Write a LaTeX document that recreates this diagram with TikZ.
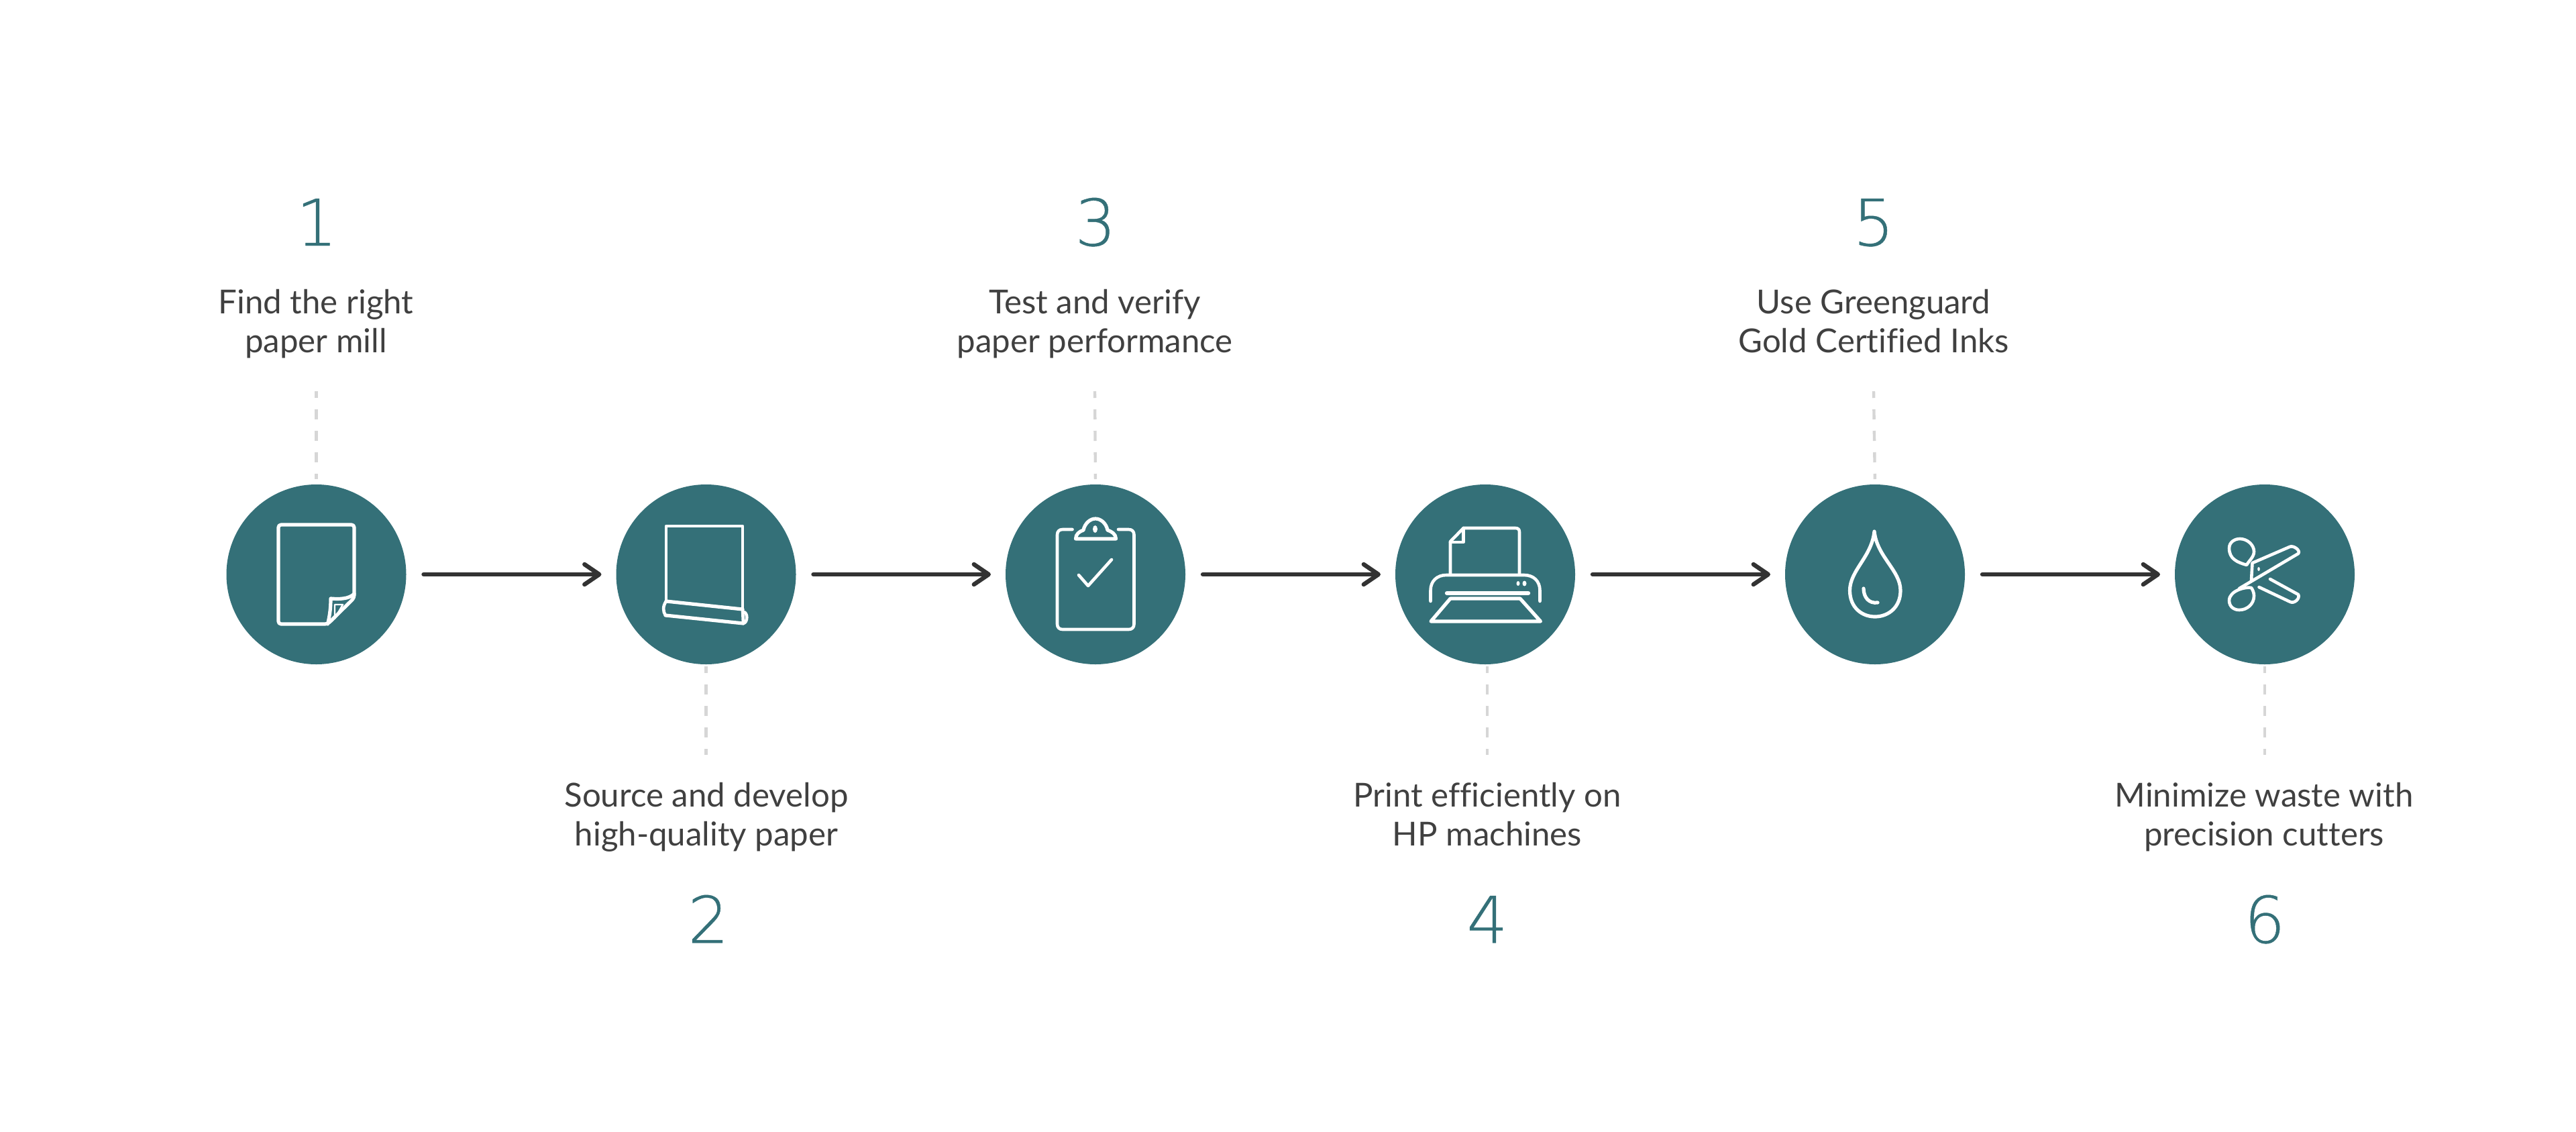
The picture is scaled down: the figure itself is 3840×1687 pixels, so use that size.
\documentclass[tikz,border=0pt]{standalone}
\usepackage{fontspec}
\setmainfont[Ligatures=NoCommon]{Lato}
\newfontfamily\numfont[FakeBold=0.5]{DejaVu Sans ExtraLight}
\usetikzlibrary{arrows.meta}
\definecolor{teal1}{HTML}{347078}
\definecolor{txt}{HTML}{404040}
\definecolor{arr}{HTML}{333333}
\definecolor{dashc}{HTML}{D6D6D6}
\tikzset{
  stepdisc/.style={circle,fill=teal1,minimum size=134pt,inner sep=0pt,outer sep=0pt},
  flow/.style={draw=arr,line width=3.2pt,line cap=round,shorten <=13pt,shorten >=11pt,
     -{Straight Barb[length=11pt,width=15pt,line width=3.2pt,round]}},
  guide/.style={draw=dashc,line width=2.2pt,dash pattern=on 7.5pt off 8.5pt,dash phase=2.5pt},
  label/.style={font=\fontsize{24.6}{29}\selectfont,text=txt,align=center,inner sep=0pt},
  numeral/.style={font=\numfont\fontsize{48}{48}\selectfont,text=teal1,inner sep=0pt,anchor=base},
  icon/.style={draw=white,line width=2.6pt,line join=round,line cap=round},
  iconthin/.style={draw=white,line width=2.3pt,line join=round,line cap=round}
}
\begin{document}
\begin{tikzpicture}[x=0.5pt,y=-0.5pt]
\useasboundingbox (0,0) rectangle (3840,1687);
% discs
\node[stepdisc] (c1) at (471.5,856) {};
\node[stepdisc] (c2) at (1052.5,856) {};
\node[stepdisc] (c3) at (1633,856) {};
\node[stepdisc] (c4) at (2214,856) {};
\node[stepdisc] (c5) at (2795,856) {};
\node[stepdisc] (c6) at (3376,856) {};
% flow arrows
\foreach \a/\b in {c1/c2,c2/c3,c3/c4,c4/c5,c5/c6}{\draw[flow] (\a) -- (\b);}
% free ends of the guides
\coordinate (t1) at (471.5,583);
\coordinate (t3) at (1632,583);
\coordinate (t5) at (2793,583);
\coordinate (b2) at (1052.5,1125);
\coordinate (b4) at (2217,1125);
\coordinate (b6) at (3376,1125);
\draw[guide,shorten >=4pt] (t1) -- (c1.north);
\draw[guide,shorten >=4pt] (t3) -- (c3.north);
\draw[guide,shorten >=4pt] (t5) -- (c5.north);
\draw[guide,shorten <=1.5pt] (c2.south) -- (b2);
\draw[guide,shorten <=1.5pt] (b4 |- c4.south) -- (b4);
\draw[guide,shorten <=1.5pt] (c6.south) -- (b6);
% numbers
\node[numeral] (n1) at (472,366) {1};
\node[numeral] (n3) at (1633,366) {3};
\node[numeral] (n5) at (2793,366) {5};
\node[numeral] (n2) at (1056,1405) {2};
\node[numeral] (n4) at (2217,1405) {4};
\node[numeral] (n6) at (3376,1405) {6};
% labels
\node[label] (l1) at (471,484.4) {\strut Find the right\\\strut paper mill};
\node[label] (l3) at (1632,484.4) {\strut Test and verify\\\strut paper performance};
\node[label] (l5) at (2793,484.4) {\strut Use Greenguard\\\strut Gold Certified Inks};
\node[label] (l2) at (1053,1219.4) {\strut Source and develop\\\strut high-quality paper};
\node[label] (l4) at (2217,1219.4) {\strut Print efficiently on\\\strut HP machines};
\node[label] (l6) at (3375,1219.4) {\strut Minimize waste with\\\strut precision cutters};
% icon 1: sheet with curled corner
\draw[icon,rounded corners=2pt] (528,891) -- (528,782) -- (415,782) -- (415,930) -- (488.5,930) -- cycle;
\draw[icon] (488.5,930) .. controls (492,915) and (493,905) .. (493,892) .. controls (505,893) and (520,893) .. (528,885);
\draw[iconthin,line width=1.2pt] (499,901) -- (511,901) -- (499,922) -- cycle;
% icon 2: sheet on a roll
\draw[iconthin] (993,896) -- (993,784) -- (1107,784) -- (1107,908);
\draw[icon] (993,896) -- (1107,908);
\draw[icon] (992,917) -- (1108,929);
\draw[iconthin] (993,896) .. controls (988,903) and (988,911) .. (992,917);
\draw[iconthin] (1108,912) .. controls (1115,912) and (1115,928) .. (1108,929);
\draw[iconthin] (1107,908) -- (1108,929);
% icon 3: clipboard with tick
\draw[iconthin] (1598.5,789) -- (1584,789) .. controls (1579,789) and (1576,792) .. (1576,797) -- (1576,930) .. controls (1576,935) and (1579,938) .. (1584,938) -- (1682.5,938) .. controls (1687.5,938) and (1690.5,935) .. (1690.5,930) -- (1690.5,797) .. controls (1690.5,792) and (1687.5,789) .. (1682.5,789) -- (1667,789);
\draw[icon] (1603.5,803) -- (1663.5,803) .. controls (1663.5,796) and (1657,792) .. (1651,790) .. controls (1649,780) and (1641,773) .. (1633,773) .. controls (1625,773) and (1617,780) .. (1615,790) .. controls (1609,792) and (1603.5,796) .. (1603.5,803) -- cycle;
\fill[white] (1632.5,788.5) ellipse [x radius=3.5,y radius=5.5];
\draw[iconthin] (1608,857) -- (1622,873) -- (1657,834);
% icon 4: printer
\draw[iconthin] (2162,855) -- (2162,807) -- (2181.5,787) -- (2259,787) .. controls (2263,787) and (2265,789) .. (2265,793) -- (2265,855);
\draw[iconthin] (2162,808) -- (2181.5,808) -- (2181.5,787);
\draw[iconthin] (2132.5,896) -- (2132.5,880) .. controls (2132.5,866) and (2142,857) .. (2156,857) -- (2272,857) .. controls (2286,857) and (2295.5,866) .. (2295.5,880) -- (2295.5,896);
\draw[white,line width=3.2pt,line cap=round] (2157,884) -- (2278,884);
\fill[white] (2263,869.5) ellipse [x radius=2.5,y radius=3.5];
\fill[white] (2272.5,869.5) ellipse [x radius=3,y radius=4];
\draw[icon] (2162,892) -- (2266,892) -- (2296.5,926) -- (2133,926) -- cycle;
% icon 5: drop
\draw[icon] (2794,792) .. controls (2790,830) and (2757.5,850) .. (2757.5,880) .. controls (2757.5,905) and (2775,919) .. (2795,919) .. controls (2815,919) and (2833,905) .. (2833,880) .. controls (2833,850) and (2798,830) .. (2794,792) -- cycle;
\draw[icon] (2778,877) .. controls (2778,890) and (2786,900) .. (2799,898);
% icon 6: scissors
\draw[iconthin] (3349,842) .. controls (3335,838) and (3323,833) .. (3323,817) .. controls (3323,808) and (3331,803) .. (3339,803) .. controls (3350,803) and (3360,812) .. (3360,822) .. controls (3360,830) and (3353,835) .. (3349,842) -- cycle;
\draw[iconthin] (3356,876) .. controls (3348,874) and (3323,880) .. (3323,895) .. controls (3323,904) and (3330,909) .. (3338,909) .. controls (3350,909) and (3360,900) .. (3360,888) .. controls (3360,883) and (3358,879) .. (3356,876) -- cycle;
\draw[iconthin] (3356,865) -- (3357.5,839) -- (3413,815) .. controls (3418,812) and (3430,820) .. (3426,825) -- (3338,877);
\fill[white] (3367,848) ellipse [x radius=1.8,y radius=3];
\draw[iconthin] (3384,863) -- (3426,886) .. controls (3429,892) and (3420,900) .. (3414,897) -- (3367.5,875);
\end{tikzpicture}
\end{document}
